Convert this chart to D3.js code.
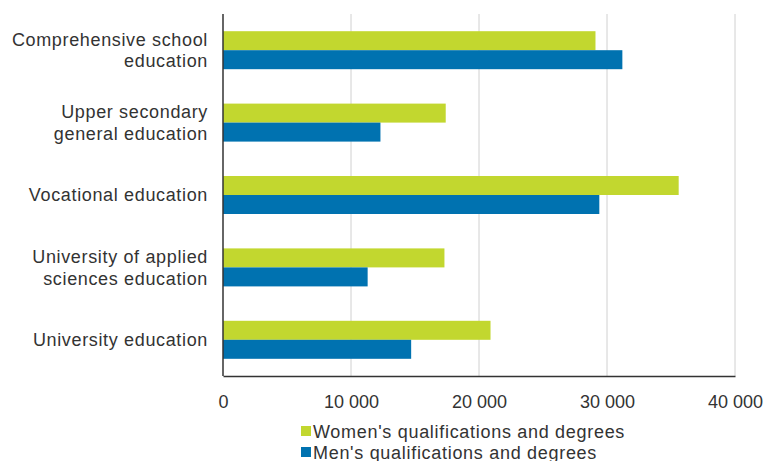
<!DOCTYPE html>
<html>
<head>
<meta charset="utf-8">
<script src="https://cdn.jsdelivr.net/npm/d3@7"></script>
<style>
  body { margin: 0; background: #fff; }
  svg { display: block; font-family: "Liberation Sans", Arial, sans-serif; }
</style>
</head>
<body>
<div id="chart"></div>
<script>
// ---------- Data ----------
const categories = [
    ["Comprehensive school", "education"],
    ["Upper secondary", "general education"],
    ["Vocational education"],
    ["University of applied", "sciences education"],
    ["University education"]
];
const seriesNames = ["Women's qualifications and degrees", "Men's qualifications and degrees"];
const women = [29100, 17400, 35600, 17300, 20900];
const men = [31200, 12300, 29400, 11300, 14700];
const xTicks = [0, 10000, 20000, 30000, 40000];

const colors = ["#c2d72f", "#0072b0"];

// ---------- Layout ----------
const W = 765, H = 461;
const margin = { top: 14, right: 30, bottom: 85, left: 223 };
const width = 735 - margin.left;
const height = 376 - margin.top;

const svg = d3.select("#chart").append("svg")
    .attr("width", W).attr("height", H);

const g = svg.append("g")
    .attr("transform", `translate(${margin.left},${margin.top})`);

const keys = categories.map((d, i) => i);
const y = d3.scaleBand().domain(keys).range([0, height]).paddingInner(0).paddingOuter(0);
const x = d3.scaleLinear().domain([0, 40000]).range([0, width]);
const inner = d3.scaleBand().domain([0, 1]).range([y.bandwidth() / 2 - 19, y.bandwidth() / 2 + 19]);

// gridlines
g.append("g").selectAll("line")
    .data(xTicks.slice(1))
    .enter().append("line")
    .attr("x1", d => x(d)).attr("x2", d => x(d))
    .attr("y1", 0).attr("y2", height)
    .attr("stroke", "#d0d0d0").attr("stroke-width", 1);

// bars
const rows = keys.map(i => ({ i, vals: [women[i], men[i]] }));
const grp = g.selectAll("g.cat").data(rows).enter().append("g")
    .attr("class", "cat")
    .attr("transform", d => `translate(0,${y(d.i)})`);

grp.selectAll("rect")
    .data(d => d.vals.map((v, s) => ({ v, s })))
    .enter().append("rect")
    .attr("x", 0)
    .attr("y", d => inner(d.s))
    .attr("width", d => x(d.v))
    .attr("height", inner.bandwidth())
    .attr("fill", d => colors[d.s]);

// axes
const xAxis = g.append("g")
    .attr("transform", `translate(0,${height})`)
    .call(d3.axisBottom(x).tickValues(xTicks).tickSize(0).tickPadding(19)
        .tickFormat(d => d3.format(",")(d).replace(",", " ")));
xAxis.select(".domain").attr("stroke", "#333").attr("stroke-width", 1.5);
xAxis.selectAll("text").attr("font-size", 18).attr("fill", "#333")
    .attr("font-family", "Liberation Sans, Arial, sans-serif");

g.append("line")
    .attr("x1", 0).attr("x2", 0).attr("y1", 0).attr("y2", height)
    .attr("stroke", "#333").attr("stroke-width", 1.5);

// category labels
const labels = g.selectAll("text.cat").data(rows).enter().append("text")
    .attr("class", "cat")
    .attr("y", d => y(d.i) + y.bandwidth() / 2)
    .attr("text-anchor", "end")
    .attr("font-size", 18)
    .attr("letter-spacing", "0.65px")
    .attr("fill", "#333");
labels.each(function (d) {
    const lines = categories[d.i];
    const t = d3.select(this);
    lines.forEach((l, k) => {
        t.append("tspan")
            .attr("x", -15)
            .attr("dy", k === 0 ? (lines.length === 1 ? "0.35em" : (0.35 - 0.6) + "em") : "1.2em")
            .text(l);
    });
});

// legend
const legend = svg.append("g").attr("transform", "translate(301,425)");
seriesNames.forEach((n, s) => {
    const row = legend.append("g").attr("transform", `translate(0,${s * 21})`);
    row.append("rect").attr("width", 10).attr("height", 10).attr("y", 1).attr("fill", colors[s]);
    row.append("text").attr("x", 12).attr("y", 12.5).attr("font-size", 18)
        .attr("letter-spacing", "0.7px").attr("fill", "#333").text(n);
});
</script>
</body>
</html>
